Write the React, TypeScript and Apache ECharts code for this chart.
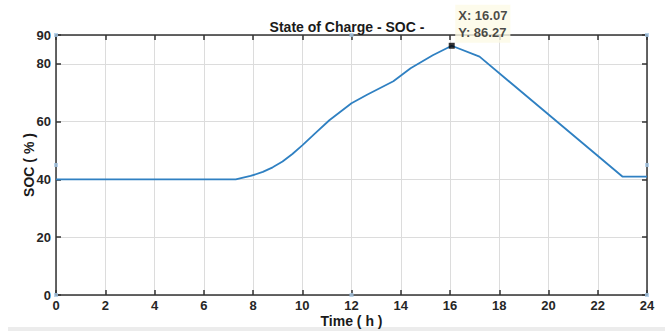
import React, { useEffect, useRef } from "react";
import * as echarts from "echarts";

const times = [0, 2, 4, 6, 7.3, 7.9, 8.4, 8.8, 9.2, 9.6, 10, 10.5, 11.1, 12, 12.65, 13.7, 14.4, 15.3, 16.07, 17.2, 23, 24];
const soc = [40, 40, 40, 40, 40, 41.2, 42.6, 44.2, 46.2, 48.8, 51.8, 55.8, 60.5, 66.4, 69.4, 74, 78.5, 83, 86.27, 82.5, 41, 41];
const tipPoint = [16.07, 86.27];
const handles = [[0, 0], [0, 45], [0, 90], [12, 0], [12, 90], [24, 0], [24, 45], [24, 90]];
const titleText = "State of Charge - SOC -";
const xName = "Time ( h )";
const yName = "SOC ( % )";

const FONT = "'Liberation Sans', Arial, sans-serif";
const AX = "#333333";

export default function App() {
  const ref = useRef<HTMLDivElement>(null);
  useEffect(() => {
    if (!ref.current) return;
    const chart = echarts.init(ref.current, undefined, { renderer: "svg" });
    const mkLine = () => ({ show: true, onZero: false, lineStyle: { color: AX, width: 1.5 } });
    const mkTick = () => ({ show: true, inside: true, length: 5, lineStyle: { color: AX, width: 1.5 } });
    chart.setOption({
      animation: false,
      backgroundColor: "#ffffff",
      title: {
        text: titleText,
        left: 342,
        textAlign: "center",
        top: 15,
        textStyle: { fontFamily: FONT, fontSize: 14, fontWeight: "bold", color: "#1a1a1a" },
      },
      grid: { left: 56, right: 18, top: 35, bottom: 36, containLabel: false, outerBoundsMode: "none" },
      xAxis: [
        {
          type: "value", min: 0, max: 24, interval: 2, position: "bottom",
          name: xName, nameLocation: "middle", nameGap: 19, nameMoveOverlap: false,
          nameTextStyle: { fontFamily: FONT, fontSize: 14, fontWeight: "bold", color: "#1a1a1a" },
          axisLine: mkLine(), axisTick: mkTick(),
          axisLabel: { margin: 4, fontFamily: FONT, fontSize: 13, fontWeight: "bold", color: "#262626" },
          splitLine: { show: true, lineStyle: { color: "#dcdcdc", width: 1 } },
        },
        {
          type: "value", min: 0, max: 24, interval: 2, position: "top",
          axisLine: mkLine(), axisTick: mkTick(), axisLabel: { show: false }, splitLine: { show: false },
        },
      ],
      yAxis: [
        {
          type: "value", min: 0, max: 90, interval: 20, position: "left",
          name: yName, nameLocation: "middle", nameGap: 20, nameMoveOverlap: false,
          nameTextStyle: { fontFamily: FONT, fontSize: 14, fontWeight: "bold", color: "#1a1a1a" },
          axisLine: mkLine(), axisTick: mkTick(),
          axisLabel: { margin: 5, fontFamily: FONT, fontSize: 13, fontWeight: "bold", color: "#262626" },
          splitLine: { show: true, lineStyle: { color: "#dcdcdc", width: 1 } },
        },
        {
          type: "value", min: 0, max: 90, interval: 20, position: "right",
          axisLine: mkLine(), axisTick: mkTick(), axisLabel: { show: false }, splitLine: { show: false },
        },
      ],
      series: [
        {
          type: "line",
          data: times.map((t, i) => [t, soc[i]]),
          showSymbol: false,
          lineStyle: { color: "#2f80c2", width: 1.8 },
          itemStyle: { color: "#2f80c2" },
        },
        {
          type: "scatter",
          data: handles,
          symbol: "rect",
          symbolSize: 4,
          itemStyle: { color: "#a9c9e6" },
          silent: true,
          z: 5,
        },
        {
          type: "scatter",
          data: [tipPoint],
          symbol: "rect",
          symbolSize: 6,
          itemStyle: { color: "#000000" },
          z: 10,
          label: {
            show: true,
            position: [6.5, -38],
            align: "left",
            verticalAlign: "top",
            formatter: (p: any) => `X: ${p.value[0].toFixed(2)}\nY: ${p.value[1].toFixed(2)}`,
            fontFamily: FONT,
            fontSize: 13,
            fontWeight: "bold",
            color: "#1a1a1a",
            lineHeight: 17,
            backgroundColor: "#fcfae6",
            padding: [2, 3, 2, 3],
          },
        },
      ],
      graphic: [
        { type: "rect", z: -10, shape: { x: 8, y: 327, width: 657, height: 4 }, style: { fill: "#ececec" } },
      ],
    });
    return () => chart.dispose();
  }, []);
  return <div ref={ref} style={{ position: "fixed", left: 0, top: 0, width: 665, height: 331 }} />;
}
